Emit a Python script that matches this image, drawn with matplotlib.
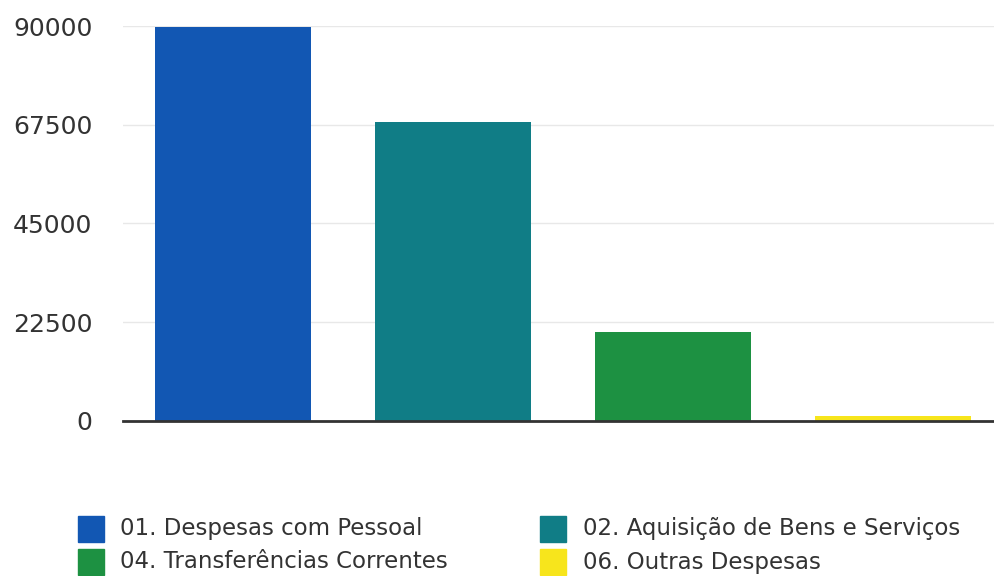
import matplotlib.pyplot as plt
from matplotlib.patches import Rectangle

categories = [
    "01. Despesas com Pessoal",
    "02. Aquisição de Bens e Serviços",
    "04. Transferências Correntes",
    "06. Outras Despesas",
]
values = [89800, 68100, 20300, 1200]
colors = ["#1257b3", "#107d86", "#1d9142", "#f7e51c"]
yticks = [0, 22500, 45000, 67500, 90000]

plt.rcParams["font.family"] = ["DejaVu Sans"]

W, H = 994, 576
fig = plt.figure(figsize=(W / 100, H / 100), dpi=100)
ax = fig.add_axes([123 / W, 1 - 421 / H, 1 - 123 / W, (421 - 26) / H])

x = list(range(len(categories)))
ax.bar(x, values, width=0.71, color=colors, zorder=2)

ax.set_xlim(-0.5, 3.46)
ax.set_ylim(0, 90000)
ax.set_yticks(yticks)
ax.set_yticklabels([str(v) for v in yticks])
ax.set_xticks([])
ax.tick_params(axis="y", length=0, pad=22, labelsize=18, labelcolor="#333333")
ax.grid(axis="y", color="#e8e8e8", lw=1, zorder=0)
for s in ["top", "right", "left"]:
    ax.spines[s].set_visible(False)
ax.spines["bottom"].set_color("#333333")
ax.spines["bottom"].set_linewidth(2)
ax.spines["bottom"].set_zorder(3)

# legend, two columns: 01 02 / 04 06
sq_x = [78, 540]
txt_x = [120, 583]
row_y = [529, 562]
for i, (cat, col) in enumerate(zip(categories, colors)):
    r = 0 if i in (0, 1) else 1
    c = i % 2
    cy = row_y[r]
    fig.add_artist(Rectangle((sq_x[c] / W, 1 - (cy + 13) / H), 26 / W, 26 / H,
                             transform=fig.transFigure, color=col))
    fig.text(txt_x[c] / W, 1 - cy / H, cat, fontsize=16.5, color="#333333",
             va="center", ha="left")

fig.savefig("out.png", dpi=100)
